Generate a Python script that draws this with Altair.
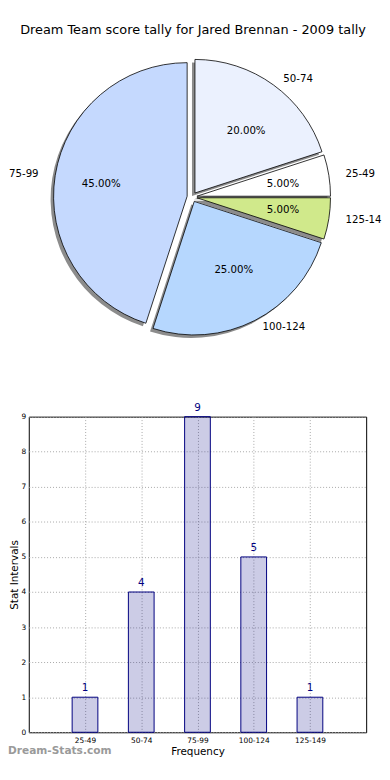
import altair as alt
import pandas as pd

# ---------------- data ----------------
title_text = "Dream Team score tally for Jared Brennan - 2009 tally"
pie_cats = ["50-74", "25-49", "125-149", "100-124", "75-99"]   # clockwise from 12 o'clock
pie_counts = [4, 1, 1, 5, 9]
pie_colors = ["#ebf1fe", "#ffffff", "#d0e98b", "#b6d7fe", "#c5d9fe"]

bar_cats = ["25-49", "50-74", "75-99", "100-124", "125-149"]
bar_counts = [1, 4, 9, 5, 1]
y_ticks = [0, 1, 2, 3, 4, 5, 6, 7, 8, 9]
watermark = "Dream-Stats.com"

# ---------------- layout constants (view = bar plot area) ----------------
FONT = "DejaVu Sans"
VX, VY = 29, 421          # page position of the bar plot area
W, H = 370 - VX, 319
CX, CY = 194 - VX, 199 - VY   # pie centre relative to the view
R = 135
E = 5
LRX, LRY = 152, 143
PRX, PRY = 88, 78
PIE_FS = 10.3

pie_df = pd.DataFrame({"cat": pie_cats, "count": pie_counts,
                       "color": pie_colors, "order": list(range(len(pie_cats)))})

base = (
    alt.Chart(pie_df)
    .transform_window(cum="sum(count)", sort=[alt.SortField("order")], frame=[None, 0])
    .transform_joinaggregate(total="sum(count)")
    .transform_calculate(
        a0="2*PI*(datum.cum - datum.count)/datum.total",
        a1="2*PI*datum.cum/datum.total",
    )
    .transform_calculate(mid="(datum.a0 + datum.a1)/2")
    .transform_calculate(
        cx=f"{CX} + {E}*sin(datum.mid)",
        cy=f"{CY} - {E}*cos(datum.mid)",
        s="sin(datum.mid)",
        pct="format(datum.count/datum.total*100, '.2f') + '%'",
    )
    .transform_calculate(
        lx=f"datum.cx + {LRX}*sin(datum.mid)",
        ly=f"datum.cy - {LRY}*cos(datum.mid)",
        px=f"datum.cx + {PRX}*sin(datum.mid)",
        py=f"datum.cy - {PRY}*cos(datum.mid)",
        sx="datum.cx - 3",
        sy="datum.cy + 3",
    )
)

shadow = base.mark_arc(radius=R, fill="#8c8c8c").encode(
    theta=alt.Theta("a0:Q", scale=None, stack=False),
    theta2="a1:Q",
    x=alt.X("sx:Q", scale=None),
    y=alt.Y("sy:Q", scale=None),
)
slices = base.mark_arc(radius=R, stroke="black", strokeWidth=0.8).encode(
    theta=alt.Theta("a0:Q", scale=None, stack=False),
    theta2="a1:Q",
    x=alt.X("cx:Q", scale=None),
    y=alt.Y("cy:Q", scale=None),
    fill=alt.Fill("color:N", scale=None),
)
pct_text = base.mark_text(font=FONT, fontSize=PIE_FS, color="black", baseline="middle").encode(
    x=alt.X("px:Q", scale=None), y=alt.Y("py:Q", scale=None), text="pct:N"
)
lab_right = base.transform_filter(f"datum.s > 0 && datum.lx < {340 - VX}").mark_text(
    font=FONT, fontSize=PIE_FS, color="black", align="left", baseline="middle"
).encode(x=alt.X("lx:Q", scale=None), y=alt.Y("ly:Q", scale=None), text="cat:N")
lab_edge = base.transform_filter(f"datum.s > 0 && datum.lx >= {340 - VX}").mark_text(
    font=FONT, fontSize=PIE_FS, color="black", align="left", baseline="middle",
    limit=37.5, ellipsis="\u200b"
).encode(x=alt.X("lx:Q", scale=None), y=alt.Y("ly:Q", scale=None), text="cat:N")
lab_left = base.transform_filter("datum.s <= 0").mark_text(
    font=FONT, fontSize=PIE_FS, color="black", align="right", baseline="middle"
).encode(x=alt.X("lx:Q", scale=None), y=alt.Y("ly:Q", scale=None), text="cat:N")

title = alt.Chart(pd.DataFrame({"t": [title_text]})).mark_text(
    font=FONT, fontSize=13, color="black", baseline="middle"
).encode(text="t:N", x=alt.value(195 - VX), y=alt.value(30 - VY))

# ---------------- bar chart ----------------
bar_df = pd.DataFrame({"cat": bar_cats, "count": bar_counts})
grid_kw = dict(grid=True, gridDash=[1, 2], gridColor="#a8a8a8", gridWidth=1,
               ticks=False, domain=False, labelOverlap=False,
               labelFont=FONT, labelFontSize=7.5, labelColor="black",
               titleFont=FONT, titleFontSize=10.5, titleFontWeight="normal", titleColor="black")
xenc = alt.X("cat:N", sort=bar_cats, scale=alt.Scale(type="point", padding=1),
             axis=alt.Axis(title="Frequency", labelAngle=0, labelPadding=4, titlePadding=3, **grid_kw))
yenc = alt.Y("count:Q", scale=alt.Scale(domain=[0, 9], nice=False),
             axis=alt.Axis(title="Stat Intervals", values=y_ticks, labelPadding=3, titlePadding=2, **grid_kw))

bars = alt.Chart(bar_df).mark_bar(size=26, fill="#000080", fillOpacity=0.2,
                                  stroke="#000080", strokeWidth=1).encode(x=xenc, y=yenc)
bar_labels = alt.Chart(bar_df).mark_text(font=FONT, fontSize=10.5, color="#000080",
                                         baseline="middle", dy=-9).encode(
    x=xenc, y=yenc, text="count:Q")
wm = alt.Chart(pd.DataFrame({"t": [watermark]})).mark_text(
    font=FONT, fontSize=10.7, fontWeight="bold", color="#9a9a9a", align="left", baseline="bottom"
).encode(text="t:N", x=alt.value(8 - VX), y=alt.value(764 - VY))

chart = alt.layer(shadow, slices, pct_text, lab_right, lab_edge, lab_left, title,
                  bars, bar_labels, wm).properties(
    width=W, height=H,
    padding={"left": 0, "top": 12, "right": 0, "bottom": 0},
    background="white",
).configure_view(stroke="black", strokeWidth=1)

chart.save("out.html", embed_options={"renderer": "svg", "actions": False})
